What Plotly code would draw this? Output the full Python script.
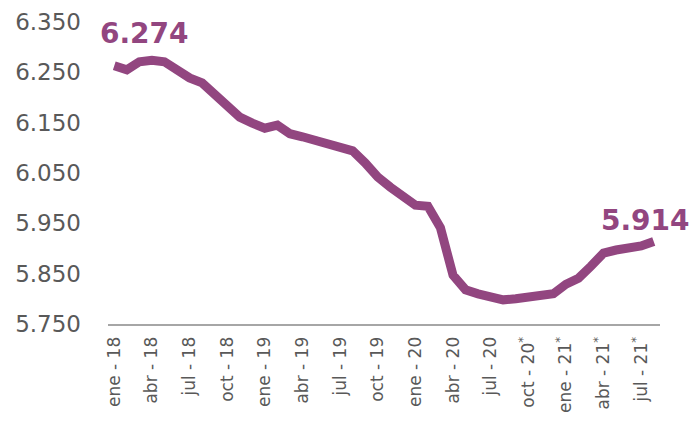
import plotly.graph_objects as go

months = ["ene", "feb", "mar", "abr", "may", "jun", "jul", "ago", "sep", "oct", "nov", "dic"]
years = ["18", "19", "20", "21"]
categories = [f"{m}-{y}" for y in years for m in months][:44]  # ene-18 .. ago-21

values = [6263, 6255, 6271, 6274, 6271, 6255, 6239, 6229, 6205, 6183,
          6161, 6149, 6139, 6145, 6128, 6122, 6116, 6110, 6104, 6094,
          6070, 6042, 6022, 6004, 5986, 5984, 5941, 5847, 5818, 5810,
          5804, 5798, 5800, 5804, 5806, 5810, 5829, 5841, 5865, 5891,
          5897, 5901, 5905, 5914]

tick_cats = categories[::3]
tick_labels = ["ene - 18", "abr - 18", "jul - 18", "oct - 18",
               "ene - 19", "abr - 19", "jul - 19", "oct - 19",
               "ene - 20", "abr - 20", "jul - 20", "oct - 20<sup>*</sup>",
               "ene - 21<sup>*</sup>", "abr - 21<sup>*</sup>", "jul - 21<sup>*</sup>"]
y_ticks = [5750, 5850, 5950, 6050, 6150, 6250, 6350]

label_first = "6.274"
label_last = "5.914"

purple = "#924680"
gray = "#595959"
FONT = "DejaVu Sans"

fig = go.Figure()
fig.add_trace(go.Scatter(
    x=categories, y=values, mode="lines",
    line=dict(color=purple, width=9, shape="linear"),
    hoverinfo="skip", showlegend=False,
))

fig.add_annotation(x=categories[2], y=6350, text=f"<b>{label_first}</b>",
                   showarrow=False, xanchor="center", yanchor="middle",
                   yshift=-11, xshift=5,
                   font=dict(size=28, color=purple, family=FONT))
fig.add_annotation(x=categories[-1], y=values[-1], text=f"<b>{label_last}</b>",
                   showarrow=False, xanchor="right", yanchor="middle",
                   yshift=21, xshift=38,
                   font=dict(size=28, color=purple, family=FONT))

fig.update_layout(
    width=694, height=439,
    margin=dict(l=108, r=34, t=22, b=115),
    paper_bgcolor="white", plot_bgcolor="white",
    separators=",.",
    font=dict(family=FONT, color=gray),
    xaxis=dict(
        type="category", range=[-0.5, len(categories) - 0.5],
        tickmode="array", tickvals=tick_cats, ticktext=tick_labels,
        tickangle=-90, tickfont=dict(size=17, color=gray, family=FONT),
        showgrid=False, zeroline=False, automargin=False,
        showline=True, linecolor="#a6a6a6", linewidth=2,
        ticks="", ticklabelstandoff=4,
    ),
    yaxis=dict(
        range=[5750, 6350], tickmode="array", tickvals=y_ticks,
        tickformat=",d", tickfont=dict(size=23, color=gray, family=FONT),
        showgrid=False, zeroline=False, showline=False, automargin=False,
        ticks="", ticklabelstandoff=26,
    ),
)

fig.write_html("out.html", config={"displayModeBar": False, "staticPlot": True},
               post_script="document.body.style.margin='0';document.body.style.overflow='hidden';")
